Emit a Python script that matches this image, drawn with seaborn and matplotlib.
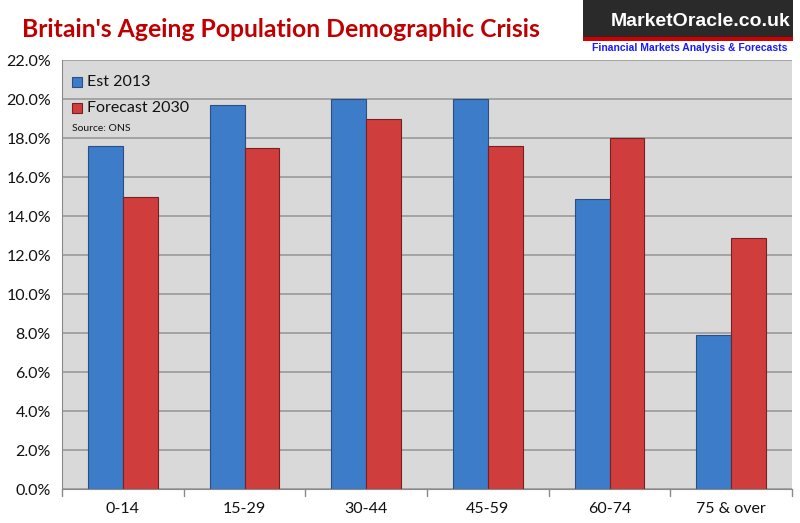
import matplotlib
matplotlib.use("Agg")
import matplotlib.pyplot as plt
import seaborn as sns
import pandas as pd
from matplotlib.patches import Rectangle

categories = ["0-14", "15-29", "30-44", "45-59", "60-74", "75 & over"]
est_2013 = [17.6, 19.7, 20.0, 20.0, 14.9, 7.9]
forecast_2030 = [15.0, 17.5, 19.0, 17.6, 18.0, 12.9]
series_names = ["Est 2013", "Forecast 2030"]
yticks = [0, 2, 4, 6, 8, 10, 12, 14, 16, 18, 20, 22]

df = pd.DataFrame({
    "Age": categories * 2,
    "Share": est_2013 + forecast_2030,
    "Series": [series_names[0]] * len(categories) + [series_names[1]] * len(categories),
})

sns.set_style("white")
plt.rcParams["font.family"] = ["Lato", "DejaVu Sans"]

blue = "#3c7cc9"
red = "#cf3d3d"

fig = plt.figure(figsize=(8, 5.23), dpi=100)
ax = fig.add_axes([0.0775, 0.065, 0.9125, 0.82])
ax.set_facecolor("#d9d9d9")

sns.barplot(data=df, x="Age", y="Share", hue="Series", palette=[blue, red],
            width=0.575, ax=ax, legend=False, saturation=1)
for i, p in enumerate(ax.patches):
    p.set_edgecolor("#2a4f80" if i < len(categories) else "#7a2020")
    p.set_linewidth(0.8)

ax.set_ylim(0, 22)
ax.set_xlim(-0.5, len(categories) - 0.5)
ax.set_yticks(yticks)
ax.set_yticklabels([f"{v:.1f}%" for v in yticks], fontsize=11.5, color="#111111")
ax.set_xticks(range(len(categories)))
ax.set_xticklabels(categories, fontsize=11.5, color="#111111")
ax.set_xlabel("")
ax.set_ylabel("")
ax.grid(axis="y", color="#9a9a9a", linewidth=1.2)
ax.set_axisbelow(True)
for s in ["top", "right"]:
    ax.spines[s].set_visible(False)
ax.spines["left"].set_color("#8a8a8a")
ax.spines["bottom"].set_color("#8a8a8a")
ax.tick_params(axis="y", length=5, color="#8a8a8a", pad=3)
ax.tick_params(axis="x", length=0, pad=9)
for b in range(len(categories) + 1):
    ax.plot([b - 0.5, b - 0.5], [0, -0.35], color="#8a8a8a", lw=1, clip_on=False)

# legend inside plot
lx = 0.0137
ys = [0.949, 0.888]
for yy, name, c, ec in zip(ys, series_names, [blue, red], ["#2a4f80", "#7a2020"]):
    ax.add_patch(Rectangle((lx, yy - 0.0115), 0.0137, 0.023, transform=ax.transAxes,
                           facecolor=c, edgecolor=ec, lw=0.8, clip_on=False))
    ax.text(lx + 0.021, yy, name, transform=ax.transAxes, fontsize=11.5,
            va="center", ha="left", color="#111111")
ax.text(lx + 0.0, 0.841, "Source: ONS", transform=ax.transAxes, fontsize=7.5,
        va="center", ha="left", color="#111111")

# title
fig.text(0.027, 0.943, "Britain's Ageing Population Demographic Crisis", fontsize=17.8,
         fontweight="bold", color="#c00000", va="center", ha="left")

# logo
fig.patches.append(Rectangle((583 / 800, 1 - 37 / 523), 210 / 800, 37 / 523,
                             transform=fig.transFigure, facecolor="#2a2a2a", edgecolor="none"))
fig.patches.append(Rectangle((583 / 800, 1 - 41 / 523), 210 / 800, 4 / 523,
                             transform=fig.transFigure, facecolor="#d00000", edgecolor="none"))
fig.text(790 / 800, 1 - 22 / 523, "MarketOracle.co.uk", fontsize=14, fontweight="bold",
         color="white", ha="right", va="center", family=["Liberation Sans", "DejaVu Sans"])
fig.text(787 / 800, 1 - 48 / 523, "Financial Markets Analysis & Forecasts", fontsize=7.5,
         fontweight="bold", color="#1a1aff", ha="right", va="center",
         family=["Liberation Sans", "DejaVu Sans"])

fig.savefig("out.png", dpi=100, facecolor="white")
